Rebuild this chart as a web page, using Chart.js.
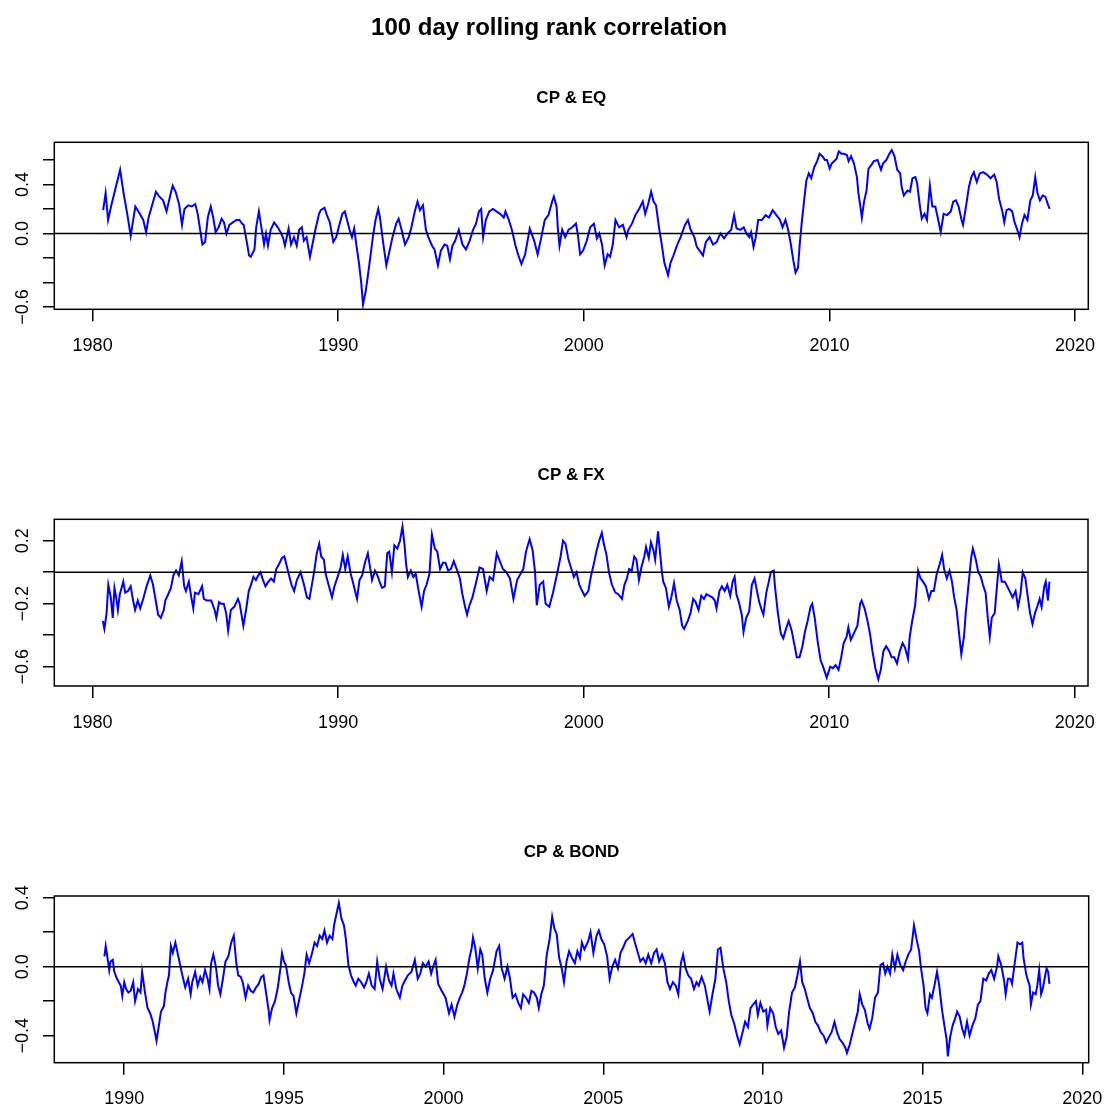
<!DOCTYPE html>
<html>
<head>
<meta charset="utf-8">
<script src="https://cdn.jsdelivr.net/npm/chart.js@4.4.1/dist/chart.umd.min.js"></script>
<style>
  html, body { margin: 0; padding: 0; background: #fff; }
  #wrap { position: relative; width: 1106px; height: 1107px; }
  canvas { position: absolute; left: 0; }
</style>
</head>
<body>
<div id="wrap">
  <canvas id="eq" width="1106" height="375" style="top:0px"></canvas>
  <canvas id="fx" width="1106" height="375" style="top:375px"></canvas>
  <canvas id="bond" width="1106" height="357" style="top:750px"></canvas>
</div>
<script>
const FONT = '"Liberation Sans", Arial, Helvetica, sans-serif';

const mainTitle = '100 day rolling rank correlation';
const panelTitles = ['CP & EQ', 'CP & FX', 'CP & BOND'];

// [year, correlation]
const eqSeries = [
  [1980.43,0.19],[1980.53,0.33],[1980.63,0.11],[1980.75,0.22],[1981.12,0.52],[1981.26,0.33],[1981.41,0.16],[1981.55,-0.02],
  [1981.74,0.22],[1981.92,0.16],[1982.06,0.11],[1982.18,0.01],[1982.28,0.13],[1982.58,0.34],[1982.72,0.30],[1982.87,0.27],
  [1983.01,0.18],[1983.16,0.31],[1983.26,0.39],[1983.38,0.34],[1983.52,0.24],[1983.64,0.07],[1983.74,0.20],[1983.89,0.23],
  [1984.04,0.22],[1984.18,0.24],[1984.28,0.16],[1984.40,0.00],[1984.47,-0.09],[1984.58,-0.07],[1984.69,0.13],[1984.81,0.22],
  [1984.91,0.13],[1985.01,0.01],[1985.13,0.05],[1985.25,0.12],[1985.35,0.09],[1985.45,0.00],[1985.57,0.07],[1985.71,0.09],
  [1985.86,0.11],[1985.98,0.11],[1986.08,0.08],[1986.15,0.07],[1986.27,-0.06],[1986.37,-0.18],[1986.44,-0.19],[1986.59,-0.13],
  [1986.66,0.05],[1986.77,0.18],[1986.88,0.04],[1986.98,-0.09],[1987.06,0.00],[1987.14,-0.10],[1987.25,0.03],[1987.39,0.09],
  [1987.54,0.05],[1987.68,0.00],[1987.76,-0.04],[1987.83,-0.10],[1987.98,0.04],[1988.08,-0.09],[1988.20,-0.03],[1988.31,-0.10],
  [1988.41,0.03],[1988.52,0.05],[1988.60,-0.06],[1988.71,-0.03],[1988.85,-0.19],[1988.93,-0.11],[1989.07,0.03],[1989.22,0.16],
  [1989.29,0.19],[1989.44,0.21],[1989.54,0.15],[1989.66,0.09],[1989.80,-0.07],[1989.92,-0.03],[1990.02,0.05],[1990.17,0.16],
  [1990.27,0.18],[1990.36,0.11],[1990.46,0.03],[1990.56,-0.03],[1990.65,0.04],[1990.75,-0.11],[1990.85,-0.25],[1990.94,-0.41],
  [1991.01,-0.58],[1991.12,-0.47],[1991.19,-0.37],[1991.29,-0.22],[1991.41,-0.03],[1991.52,0.11],[1991.63,0.20],[1991.70,0.13],
  [1991.82,-0.06],[1991.96,-0.26],[1992.06,-0.17],[1992.21,-0.03],[1992.36,0.08],[1992.46,0.12],[1992.58,0.03],[1992.72,-0.09],
  [1992.87,-0.03],[1992.98,0.05],[1993.13,0.19],[1993.23,0.26],[1993.33,0.19],[1993.45,0.23],[1993.57,0.03],[1993.67,-0.03],
  [1993.82,-0.10],[1993.92,-0.13],[1994.06,-0.26],[1994.18,-0.14],[1994.33,-0.09],[1994.44,-0.10],[1994.55,-0.21],[1994.65,-0.10],
  [1994.76,-0.06],[1994.91,0.03],[1995.06,-0.09],[1995.20,-0.13],[1995.35,-0.06],[1995.49,0.03],[1995.61,0.08],[1995.73,0.18],
  [1995.82,0.20],[1995.90,-0.03],[1996.01,0.11],[1996.15,0.18],[1996.30,0.20],[1996.44,0.18],[1996.59,0.16],[1996.74,0.13],
  [1996.81,0.18],[1996.93,0.12],[1997.07,0.03],[1997.22,-0.10],[1997.32,-0.17],[1997.46,-0.25],[1997.61,-0.17],[1997.80,0.04],
  [1997.98,-0.06],[1998.12,-0.17],[1998.27,-0.03],[1998.41,0.11],[1998.56,0.15],[1998.71,0.26],[1998.78,0.30],[1998.89,0.22],
  [1998.94,0.05],[1999.01,-0.10],[1999.12,0.03],[1999.24,-0.03],[1999.38,0.03],[1999.53,0.05],[1999.68,0.08],[1999.75,0.00],
  [1999.85,-0.17],[1999.97,-0.14],[2000.12,-0.06],[2000.26,0.05],[2000.41,0.08],[2000.53,-0.04],[2000.63,0.00],[2000.74,-0.09],
  [2000.85,-0.26],[2000.97,-0.17],[2001.07,-0.19],[2001.18,-0.09],[2001.29,0.11],[2001.44,0.05],[2001.59,0.07],[2001.74,-0.03],
  [2001.81,0.03],[2001.96,0.08],[2002.10,0.15],[2002.25,0.20],[2002.40,0.26],[2002.50,0.16],[2002.62,0.24],[2002.74,0.34],
  [2002.84,0.26],[2002.94,0.23],[2003.06,0.05],[2003.18,-0.10],[2003.28,-0.24],[2003.43,-0.34],[2003.53,-0.24],[2003.65,-0.18],
  [2003.79,-0.10],[2003.94,-0.03],[2004.12,0.07],[2004.24,0.11],[2004.35,0.03],[2004.50,-0.03],[2004.60,-0.11],[2004.75,-0.15],
  [2004.85,-0.18],[2004.97,-0.07],[2005.12,-0.03],[2005.26,-0.09],[2005.41,-0.07],[2005.56,0.00],[2005.71,-0.04],[2005.85,0.00],
  [2006.00,0.03],[2006.12,0.15],[2006.22,0.04],[2006.37,0.03],[2006.51,0.05],[2006.62,0.00],[2006.74,-0.03],[2006.81,0.01],
  [2006.91,-0.11],[2007.00,-0.03],[2007.10,0.11],[2007.25,0.11],[2007.40,0.15],[2007.54,0.13],[2007.69,0.19],[2007.84,0.15],
  [2007.99,0.11],[2008.09,0.05],[2008.21,0.11],[2008.32,0.03],[2008.43,-0.09],[2008.53,-0.22],[2008.62,-0.32],[2008.72,-0.28],
  [2008.79,-0.09],[2008.87,0.08],[2008.97,0.27],[2009.06,0.43],[2009.16,0.49],[2009.26,0.45],[2009.38,0.54],[2009.50,0.59],
  [2009.60,0.65],[2009.71,0.63],[2009.82,0.60],[2009.90,0.60],[2010.01,0.53],[2010.09,0.57],[2010.19,0.59],[2010.29,0.61],
  [2010.38,0.67],[2010.49,0.65],[2010.59,0.65],[2010.71,0.64],[2010.78,0.59],[2010.88,0.63],[2011.00,0.57],[2011.12,0.46],
  [2011.18,0.33],[2011.26,0.22],[2011.32,0.13],[2011.41,0.26],[2011.51,0.35],[2011.59,0.53],[2011.71,0.56],[2011.81,0.59],
  [2011.96,0.60],[2012.10,0.52],[2012.18,0.57],[2012.32,0.60],[2012.44,0.65],[2012.54,0.68],[2012.65,0.63],[2012.76,0.52],
  [2012.88,0.49],[2012.94,0.38],[2013.03,0.31],[2013.18,0.35],[2013.28,0.34],[2013.38,0.45],[2013.50,0.46],[2013.57,0.41],
  [2013.68,0.23],[2013.76,0.12],[2013.87,0.16],[2013.97,0.11],[2014.09,0.39],[2014.19,0.22],[2014.31,0.22],[2014.41,0.13],
  [2014.53,0.01],[2014.65,0.16],[2014.79,0.15],[2014.94,0.18],[2015.04,0.26],[2015.15,0.27],[2015.26,0.22],[2015.38,0.11],
  [2015.44,0.07],[2015.56,0.22],[2015.68,0.38],[2015.78,0.46],[2015.88,0.50],[2016.00,0.42],[2016.12,0.49],[2016.26,0.50],
  [2016.41,0.48],[2016.56,0.45],[2016.71,0.48],[2016.81,0.42],[2016.91,0.28],[2017.03,0.19],[2017.12,0.09],[2017.21,0.19],
  [2017.32,0.20],[2017.44,0.18],[2017.54,0.09],[2017.65,0.03],[2017.74,-0.03],[2017.84,0.08],[2017.94,0.15],[2018.06,0.11],
  [2018.18,0.27],[2018.28,0.31],[2018.38,0.46],[2018.47,0.33],[2018.57,0.27],[2018.68,0.31],[2018.79,0.30],[2018.91,0.23],
  [2018.97,0.20]
];

const fxSeries = [
  [1980.42,-0.31],[1980.48,-0.36],[1980.57,-0.26],[1980.64,-0.08],[1980.74,-0.16],[1980.82,-0.29],[1980.89,-0.10],[1980.96,-0.16],
  [1981.03,-0.24],[1981.11,-0.14],[1981.18,-0.10],[1981.25,-0.06],[1981.33,-0.13],[1981.44,-0.12],[1981.55,-0.09],[1981.65,-0.18],
  [1981.73,-0.24],[1981.84,-0.18],[1981.94,-0.23],[1982.06,-0.17],[1982.20,-0.09],[1982.35,-0.02],[1982.46,-0.08],[1982.57,-0.18],
  [1982.67,-0.27],[1982.78,-0.29],[1982.90,-0.24],[1982.96,-0.18],[1983.08,-0.14],[1983.19,-0.10],[1983.29,-0.02],[1983.40,0.01],
  [1983.51,-0.02],[1983.63,0.07],[1983.73,-0.09],[1983.80,-0.12],[1983.92,-0.06],[1984.02,-0.16],[1984.10,-0.23],[1984.17,-0.13],
  [1984.31,-0.14],[1984.46,-0.09],[1984.53,-0.17],[1984.65,-0.18],[1984.83,-0.18],[1984.97,-0.24],[1985.04,-0.29],[1985.15,-0.19],
  [1985.23,-0.20],[1985.34,-0.20],[1985.44,-0.26],[1985.52,-0.37],[1985.63,-0.24],[1985.77,-0.22],[1985.92,-0.17],[1985.99,-0.20],
  [1986.14,-0.34],[1986.25,-0.24],[1986.36,-0.12],[1986.43,-0.09],[1986.55,-0.03],[1986.65,-0.05],[1986.75,-0.02],[1986.84,0.00],
  [1986.94,-0.05],[1987.04,-0.09],[1987.16,-0.06],[1987.27,-0.04],[1987.38,-0.06],[1987.48,0.02],[1987.59,0.05],[1987.71,0.09],
  [1987.81,0.10],[1987.89,0.05],[1988.00,-0.02],[1988.10,-0.08],[1988.21,-0.12],[1988.32,-0.05],[1988.47,0.00],[1988.61,-0.08],
  [1988.73,-0.16],[1988.83,-0.17],[1988.91,-0.10],[1989.02,0.00],[1989.13,0.12],[1989.23,0.18],[1989.31,0.10],[1989.42,0.08],
  [1989.49,-0.01],[1989.61,-0.08],[1989.75,-0.16],[1989.85,-0.09],[1990.00,-0.02],[1990.10,0.03],[1990.19,0.11],[1990.29,0.02],
  [1990.39,0.10],[1990.51,-0.01],[1990.58,-0.05],[1990.69,-0.12],[1990.77,-0.17],[1990.87,-0.05],[1990.98,-0.02],[1991.09,0.06],
  [1991.21,0.12],[1991.31,0.02],[1991.38,-0.05],[1991.50,0.01],[1991.60,-0.02],[1991.71,-0.07],[1991.79,-0.10],[1991.90,-0.09],
  [1992.00,0.12],[1992.08,0.13],[1992.19,0.00],[1992.29,0.17],[1992.41,0.15],[1992.52,0.20],[1992.62,0.29],[1992.70,0.18],
  [1992.77,0.05],[1992.84,-0.03],[1992.96,0.01],[1993.06,-0.03],[1993.16,-0.01],[1993.28,-0.12],[1993.40,-0.22],[1993.50,-0.12],
  [1993.60,-0.08],[1993.72,-0.01],[1993.82,0.24],[1993.94,0.15],[1994.04,0.13],[1994.15,0.02],[1994.27,0.06],[1994.37,0.06],
  [1994.48,0.01],[1994.59,0.02],[1994.71,0.07],[1994.85,0.01],[1994.96,-0.04],[1995.06,-0.14],[1995.17,-0.22],[1995.25,-0.27],
  [1995.35,-0.21],[1995.47,-0.16],[1995.61,-0.07],[1995.76,0.03],[1995.90,0.02],[1996.05,-0.12],[1996.17,-0.03],[1996.31,-0.05],
  [1996.46,0.12],[1996.56,0.08],[1996.71,0.02],[1996.85,0.00],[1997.00,-0.04],[1997.14,-0.17],[1997.29,-0.05],[1997.43,-0.01],
  [1997.54,0.02],[1997.65,0.13],[1997.80,0.21],[1997.92,0.14],[1998.02,0.00],[1998.09,-0.21],[1998.21,-0.08],[1998.35,-0.06],
  [1998.45,-0.20],[1998.60,-0.22],[1998.75,-0.13],[1998.89,-0.03],[1999.06,0.10],[1999.16,0.20],[1999.26,0.18],[1999.38,0.08],
  [1999.50,0.02],[1999.60,-0.03],[1999.71,0.00],[1999.82,-0.08],[1999.94,-0.12],[2000.04,-0.15],[2000.19,-0.12],[2000.29,-0.03],
  [2000.41,0.05],[2000.53,0.14],[2000.63,0.20],[2000.74,0.25],[2000.82,0.18],[2000.93,0.11],[2001.03,0.00],[2001.15,-0.08],
  [2001.29,-0.13],[2001.41,-0.14],[2001.56,-0.17],[2001.66,-0.08],[2001.76,-0.04],[2001.85,0.02],[2001.96,0.01],[2002.06,0.10],
  [2002.15,0.08],[2002.25,-0.05],[2002.35,0.03],[2002.47,0.10],[2002.54,0.16],[2002.65,0.09],[2002.74,0.19],[2002.84,0.14],
  [2002.91,0.08],[2003.03,0.26],[2003.09,0.16],[2003.18,0.01],[2003.24,-0.06],[2003.35,-0.10],[2003.47,-0.22],[2003.57,-0.16],
  [2003.68,-0.07],[2003.79,-0.18],[2003.91,-0.24],[2004.01,-0.34],[2004.09,-0.36],[2004.24,-0.31],[2004.35,-0.26],[2004.46,-0.17],
  [2004.56,-0.19],[2004.68,-0.24],[2004.79,-0.15],[2004.90,-0.17],[2005.00,-0.14],[2005.12,-0.15],[2005.24,-0.16],[2005.34,-0.18],
  [2005.41,-0.23],[2005.53,-0.12],[2005.63,-0.09],[2005.74,-0.12],[2005.85,-0.08],[2005.97,-0.15],[2006.07,-0.06],[2006.15,-0.03],
  [2006.22,-0.14],[2006.32,-0.19],[2006.44,-0.27],[2006.51,-0.38],[2006.62,-0.29],[2006.74,-0.25],[2006.85,-0.08],[2006.96,-0.04],
  [2007.06,-0.12],[2007.15,-0.19],[2007.25,-0.24],[2007.32,-0.27],[2007.44,-0.13],[2007.54,-0.06],[2007.62,0.00],[2007.74,0.01],
  [2007.79,-0.09],[2007.91,-0.26],[2008.03,-0.39],[2008.13,-0.42],[2008.24,-0.36],[2008.35,-0.31],[2008.47,-0.37],[2008.57,-0.45],
  [2008.68,-0.54],[2008.79,-0.54],[2008.91,-0.47],[2009.01,-0.38],[2009.12,-0.31],[2009.24,-0.22],[2009.31,-0.20],[2009.41,-0.29],
  [2009.53,-0.44],[2009.65,-0.56],[2009.75,-0.60],[2009.90,-0.67],[2010.04,-0.60],[2010.15,-0.61],[2010.26,-0.59],[2010.38,-0.62],
  [2010.49,-0.54],[2010.59,-0.45],[2010.71,-0.41],[2010.78,-0.35],[2010.88,-0.43],[2011.00,-0.39],[2011.15,-0.34],[2011.26,-0.20],
  [2011.32,-0.18],[2011.44,-0.23],[2011.56,-0.31],[2011.66,-0.39],[2011.76,-0.50],[2011.88,-0.61],[2012.00,-0.68],[2012.10,-0.62],
  [2012.21,-0.50],[2012.32,-0.47],[2012.44,-0.50],[2012.54,-0.54],[2012.65,-0.54],[2012.76,-0.58],[2012.88,-0.50],[2012.99,-0.45],
  [2013.09,-0.48],[2013.21,-0.55],[2013.28,-0.41],[2013.38,-0.31],[2013.50,-0.21],[2013.62,0.01],[2013.72,-0.04],[2013.82,-0.06],
  [2013.94,-0.09],[2014.06,-0.17],[2014.16,-0.12],[2014.26,-0.12],[2014.38,-0.01],[2014.50,0.05],[2014.60,0.11],[2014.68,0.02],
  [2014.79,-0.04],[2014.90,0.01],[2015.00,-0.06],[2015.09,-0.16],[2015.19,-0.24],[2015.29,-0.39],[2015.38,-0.52],[2015.49,-0.41],
  [2015.56,-0.26],[2015.68,-0.07],[2015.78,0.09],[2015.85,0.15],[2015.97,0.08],[2016.07,0.00],[2016.18,-0.03],[2016.26,-0.08],
  [2016.37,-0.13],[2016.47,-0.31],[2016.54,-0.41],[2016.62,-0.29],[2016.74,-0.26],[2016.81,-0.13],[2016.91,0.05],[2017.03,-0.06],
  [2017.15,-0.06],[2017.25,-0.09],[2017.35,-0.12],[2017.47,-0.16],[2017.59,-0.12],[2017.69,-0.22],[2017.79,-0.14],[2017.88,0.00],
  [2017.99,-0.04],[2018.09,-0.16],[2018.18,-0.26],[2018.28,-0.33],[2018.38,-0.26],[2018.47,-0.22],[2018.57,-0.17],[2018.65,-0.22],
  [2018.76,-0.09],[2018.82,-0.06],[2018.91,-0.18],[2018.97,-0.06]
];

const bondSeries = [
  [1989.38,0.06],[1989.42,0.12],[1989.47,0.06],[1989.53,-0.02],[1989.57,0.03],[1989.64,0.04],[1989.69,-0.03],[1989.75,-0.06],
  [1989.83,-0.09],[1989.89,-0.11],[1989.94,-0.17],[1990.00,-0.09],[1990.06,-0.13],[1990.13,-0.15],[1990.20,-0.14],[1990.28,-0.09],
  [1990.34,-0.20],[1990.43,-0.13],[1990.51,-0.15],[1990.56,-0.03],[1990.65,-0.15],[1990.73,-0.24],[1990.81,-0.27],[1990.88,-0.31],
  [1990.96,-0.38],[1991.01,-0.43],[1991.07,-0.36],[1991.15,-0.26],[1991.24,-0.23],[1991.29,-0.15],[1991.35,-0.09],[1991.40,-0.05],
  [1991.46,0.12],[1991.52,0.08],[1991.60,0.14],[1991.66,0.09],[1991.74,0.02],[1991.82,-0.05],[1991.91,-0.12],[1992.00,-0.07],
  [1992.08,-0.16],[1992.13,-0.09],[1992.22,-0.03],[1992.30,-0.11],[1992.38,-0.06],[1992.45,-0.09],[1992.53,-0.02],[1992.61,-0.07],
  [1992.67,-0.13],[1992.72,0.02],[1992.79,0.07],[1992.87,0.00],[1992.94,-0.11],[1993.01,-0.16],[1993.09,-0.07],[1993.17,0.03],
  [1993.26,0.06],[1993.35,0.14],[1993.43,0.18],[1993.51,0.02],[1993.57,-0.05],[1993.65,-0.06],[1993.71,-0.09],[1993.80,-0.18],
  [1993.88,-0.11],[1993.96,-0.14],[1994.04,-0.15],[1994.13,-0.12],[1994.21,-0.10],[1994.29,-0.06],[1994.36,-0.05],[1994.44,-0.15],
  [1994.52,-0.25],[1994.55,-0.31],[1994.63,-0.24],[1994.72,-0.20],[1994.81,-0.12],[1994.89,-0.01],[1994.94,0.08],[1995.00,0.03],
  [1995.06,0.01],[1995.15,-0.09],[1995.22,-0.15],[1995.30,-0.17],[1995.39,-0.27],[1995.48,-0.19],[1995.56,-0.12],[1995.64,-0.04],
  [1995.71,0.07],[1995.79,0.02],[1995.87,0.07],[1995.96,0.14],[1996.04,0.12],[1996.12,0.18],[1996.20,0.16],[1996.27,0.21],
  [1996.35,0.14],[1996.43,0.18],[1996.52,0.16],[1996.57,0.24],[1996.65,0.31],[1996.72,0.37],[1996.80,0.28],[1996.88,0.24],
  [1996.94,0.16],[1997.02,0.01],[1997.10,-0.05],[1997.19,-0.09],[1997.25,-0.11],[1997.33,-0.07],[1997.42,-0.09],[1997.51,-0.12],
  [1997.58,-0.09],[1997.66,-0.04],[1997.75,-0.11],[1997.84,-0.13],[1997.92,0.03],[1998.00,-0.07],[1998.09,-0.13],[1998.20,0.00],
  [1998.29,-0.08],[1998.37,-0.11],[1998.43,-0.04],[1998.52,-0.13],[1998.63,-0.18],[1998.71,-0.11],[1998.79,-0.08],[1998.88,-0.05],
  [1998.99,-0.03],[1999.10,0.04],[1999.19,-0.07],[1999.27,-0.04],[1999.35,0.02],[1999.44,0.00],[1999.53,0.03],[1999.61,-0.04],
  [1999.69,0.01],[1999.75,0.04],[1999.83,-0.10],[1999.94,-0.14],[2000.06,-0.18],[2000.17,-0.27],[2000.25,-0.22],[2000.34,-0.29],
  [2000.43,-0.22],[2000.51,-0.18],[2000.58,-0.15],[2000.65,-0.11],[2000.73,-0.04],[2000.81,0.05],[2000.88,0.11],[2000.92,0.17],
  [2000.99,0.11],[2001.07,-0.01],[2001.15,0.10],[2001.21,0.07],[2001.29,-0.07],[2001.37,-0.15],[2001.46,-0.07],[2001.55,-0.02],
  [2001.66,0.09],[2001.74,0.12],[2001.82,-0.01],[2001.91,-0.07],[2002.00,0.00],[2002.08,-0.07],[2002.16,-0.18],[2002.25,-0.16],
  [2002.34,-0.21],[2002.42,-0.24],[2002.49,-0.16],[2002.58,-0.18],[2002.67,-0.21],[2002.75,-0.14],[2002.83,-0.15],[2002.92,-0.18],
  [2002.98,-0.24],[2003.06,-0.16],[2003.14,-0.11],[2003.23,0.07],[2003.32,0.16],[2003.40,0.29],[2003.47,0.22],[2003.54,0.19],
  [2003.62,0.05],[2003.70,-0.01],[2003.77,-0.09],[2003.85,0.03],[2003.93,0.09],[2004.02,0.05],[2004.11,0.02],[2004.19,0.09],
  [2004.27,0.05],[2004.33,0.14],[2004.41,0.10],[2004.53,0.15],[2004.60,0.20],[2004.69,0.08],[2004.79,0.18],[2004.86,0.21],
  [2004.94,0.16],[2005.03,0.13],[2005.12,0.06],[2005.20,-0.07],[2005.28,0.00],[2005.37,0.04],[2005.46,-0.01],[2005.54,0.08],
  [2005.62,0.11],[2005.71,0.15],[2005.82,0.17],[2005.92,0.19],[2005.99,0.14],[2006.07,0.09],[2006.16,0.03],[2006.25,0.05],
  [2006.33,0.02],[2006.41,0.07],[2006.50,0.02],[2006.59,0.08],[2006.67,0.10],[2006.75,0.03],[2006.84,0.07],[2006.93,0.02],
  [2007.01,-0.09],[2007.09,-0.13],[2007.18,-0.09],[2007.27,-0.11],[2007.35,-0.16],[2007.43,0.02],[2007.50,0.07],[2007.58,-0.01],
  [2007.66,-0.05],[2007.75,-0.07],[2007.84,-0.13],[2007.92,-0.09],[2007.99,-0.11],[2008.08,-0.06],[2008.18,-0.11],[2008.25,-0.18],
  [2008.33,-0.26],[2008.42,-0.16],[2008.51,-0.07],[2008.59,0.10],[2008.67,0.11],[2008.76,-0.01],[2008.85,-0.09],[2008.93,-0.20],
  [2009.01,-0.28],[2009.10,-0.33],[2009.19,-0.40],[2009.27,-0.45],[2009.35,-0.39],[2009.44,-0.32],[2009.53,-0.35],[2009.61,-0.24],
  [2009.69,-0.22],[2009.78,-0.20],[2009.84,-0.28],[2009.92,-0.21],[2010.01,-0.26],[2010.10,-0.25],[2010.14,-0.34],[2010.23,-0.24],
  [2010.32,-0.27],[2010.40,-0.35],[2010.48,-0.39],[2010.57,-0.37],[2010.66,-0.47],[2010.74,-0.41],[2010.82,-0.26],[2010.91,-0.15],
  [2011.00,-0.12],[2011.08,-0.05],[2011.16,0.03],[2011.23,-0.09],[2011.31,-0.13],[2011.38,-0.18],[2011.47,-0.24],[2011.56,-0.27],
  [2011.64,-0.32],[2011.72,-0.34],[2011.81,-0.38],[2011.90,-0.40],[2011.98,-0.44],[2012.06,-0.41],[2012.15,-0.38],[2012.24,-0.32],
  [2012.32,-0.38],[2012.40,-0.42],[2012.49,-0.44],[2012.58,-0.47],[2012.63,-0.50],[2012.72,-0.45],[2012.81,-0.38],[2012.89,-0.32],
  [2012.97,-0.26],[2013.03,-0.16],[2013.11,-0.22],[2013.19,-0.25],[2013.28,-0.33],[2013.34,-0.36],[2013.42,-0.30],[2013.51,-0.18],
  [2013.60,-0.15],[2013.68,0.01],[2013.76,0.02],[2013.83,-0.04],[2013.90,0.00],[2013.98,-0.04],[2014.05,0.07],[2014.13,-0.01],
  [2014.21,0.07],[2014.30,0.01],[2014.39,-0.02],[2014.47,0.03],[2014.55,0.07],[2014.64,0.10],[2014.73,0.24],[2014.81,0.16],
  [2014.89,0.09],[2014.95,-0.01],[2015.03,-0.11],[2015.09,-0.24],[2015.15,-0.27],[2015.23,-0.16],[2015.29,-0.18],[2015.37,-0.11],
  [2015.45,-0.03],[2015.52,-0.11],[2015.60,-0.24],[2015.68,-0.34],[2015.75,-0.42],[2015.79,-0.52],[2015.86,-0.41],[2015.94,-0.34],
  [2016.02,-0.30],[2016.08,-0.26],[2016.16,-0.29],[2016.24,-0.36],[2016.31,-0.40],[2016.39,-0.32],[2016.47,-0.40],[2016.56,-0.34],
  [2016.65,-0.30],[2016.73,-0.22],[2016.81,-0.20],[2016.90,-0.07],[2016.99,-0.08],[2017.07,-0.04],[2017.15,-0.02],[2017.24,-0.07],
  [2017.33,0.00],[2017.37,0.06],[2017.46,0.01],[2017.55,-0.08],[2017.60,-0.16],[2017.67,-0.07],[2017.75,-0.07],[2017.80,-0.10],
  [2017.89,0.03],[2017.97,0.14],[2018.05,0.13],[2018.12,0.14],[2018.16,0.05],[2018.25,-0.05],[2018.35,-0.11],[2018.39,-0.22],
  [2018.46,-0.15],[2018.54,-0.16],[2018.59,-0.11],[2018.65,-0.02],[2018.71,-0.16],[2018.76,-0.13],[2018.82,-0.07],[2018.88,-0.01],
  [2018.93,-0.03],[2018.97,-0.10]
];

// axis ticks and labelled ticks
const yearTicks = [1980, 1990, 2000, 2010, 2020];
const bondYearTicks = [1990, 1995, 2000, 2005, 2010, 2015, 2020];
const eqYTicks = [-0.6, -0.4, -0.2, 0, 0.2, 0.4, 0.6];
const eqYLabels = [0.4, 0, -0.6];
const fxYTicks = [-0.6, -0.4, -0.2, 0, 0.2];
const fxYLabels = [0.2, -0.2, -0.6];
const bondYTicks = [-0.4, -0.2, 0, 0.2, 0.4];
const bondYLabels = [0.4, 0, -0.4];

Chart.defaults.font.family = FONT;

function fmt(v) {
  return (v < 0 ? '\u2212' : '') + Math.abs(v).toFixed(1);
}

// box round the plot region, like R's box()
const boxPlugin = {
  id: 'rBox',
  afterDraw(chart) {
    const a = chart.chartArea;
    const ctx = chart.ctx;
    ctx.save();
    ctx.strokeStyle = '#000';
    ctx.lineWidth = 1.5;
    ctx.strokeRect(a.left, a.top, a.right - a.left, a.bottom - a.top);
    ctx.restore();
  }
};

// R draws y tick labels turned on their side
const yLabelPlugin = {
  id: 'rYLabels',
  afterDraw(chart, args, opts) {
    const y = chart.scales.y;
    const ctx = chart.ctx;
    ctx.save();
    ctx.fillStyle = '#000';
    ctx.font = '18px ' + FONT;
    ctx.textAlign = 'center';
    ctx.textBaseline = 'alphabetic';
    opts.values.forEach(v => {
      ctx.save();
      ctx.translate(opts.x, y.getPixelForValue(v));
      ctx.rotate(-Math.PI / 2);
      ctx.fillText(fmt(v), 0, 0);
      ctx.restore();
    });
    ctx.restore();
  }
};

function makePanel(id, p) {
  const plugins = {
    legend: { display: false },
    tooltip: { enabled: false },
    rYLabels: { values: p.yLabels, x: 28 }
  };
  if (p.mainTitle) {
    plugins.title = {
      display: true, text: p.mainTitle, color: '#000', fullSize: true,
      font: { size: 24, weight: 'bold', lineHeight: 1.2 },
      padding: { top: 0, bottom: 0 }
    };
    plugins.subtitle = {
      display: true, text: p.title, color: '#000', fullSize: false,
      font: { size: 17, weight: 'bold', lineHeight: 1.2 },
      padding: { top: 45.5, bottom: 33.6 }
    };
  } else {
    plugins.title = {
      display: true, text: p.title, color: '#000', fullSize: false,
      font: { size: 17, weight: 'bold', lineHeight: 1.2 },
      padding: { top: 0, bottom: 33.6 }
    };
  }

  new Chart(document.getElementById(id), {
    type: 'line',
    data: {
      datasets: [
        {
          data: [{ x: p.xMin, y: 0 }, { x: p.xMax, y: 0 }],
          borderColor: '#000',
          borderWidth: 1.5,
          pointRadius: 0
        },
        {
          data: p.series.map(d => ({ x: d[0], y: d[1] })),
          borderColor: '#0000ff',
          borderWidth: 2,
          pointRadius: 0,
          tension: 0
        }
      ]
    },
    options: {
      responsive: false,
      animation: false,
      events: [],
      layout: { padding: p.padding },
      plugins: plugins,
      scales: {
        x: {
          type: 'linear',
          min: p.xMin, max: p.xMax,
          afterBuildTicks: s => { s.ticks = p.xTicks.map(v => ({ value: v })); },
          afterFit: s => { s.height = p.xAxisHeight; s.paddingLeft = 0; s.paddingRight = 0; },
          border: { display: false },
          grid: { drawOnChartArea: false, drawTicks: true, tickLength: 12, color: '#000', lineWidth: 1.5 },
          ticks: {
            autoSkip: false, maxRotation: 0, minRotation: 0, padding: 14,
            color: '#000', font: { size: 18 },
            callback: v => String(v)
          }
        },
        y: {
          type: 'linear',
          min: p.yMin, max: p.yMax,
          afterBuildTicks: s => { s.ticks = p.yTicks.map(v => ({ value: v })); },
          afterFit: s => { s.width = 44.3; s.paddingTop = 0; s.paddingBottom = 0; },
          border: { display: false },
          grid: { drawOnChartArea: false, drawTicks: true, tickLength: 11.3, color: '#000', lineWidth: 1.5 },
          ticks: { font: { size: 1 }, padding: 0, callback: () => '' }
        }
      }
    },
    plugins: [boxPlugin, yLabelPlugin]
  });
}

makePanel('eq', {
  mainTitle: mainTitle, title: panelTitles[0], series: eqSeries,
  xMin: 1978.44, xMax: 2020.54, xTicks: yearTicks, xAxisHeight: 60,
  yMin: -0.619, yMax: 0.744, yTicks: eqYTicks, yLabels: eqYLabels,
  padding: { left: 10, right: 17.7, top: 14, bottom: 5.7 }
});

makePanel('fx', {
  title: panelTitles[1], series: fxSeries,
  xMin: 1978.44, xMax: 2020.54, xTicks: yearTicks, xAxisHeight: 60,
  yMin: -0.723, yMax: 0.336, yTicks: fxYTicks, yLabels: fxYLabels,
  padding: { left: 10, right: 18, top: 90.3, bottom: 4 }
});

makePanel('bond', {
  title: panelTitles[2], series: bondSeries,
  xMin: 1987.81, xMax: 2020.2, xTicks: bondYearTicks, xAxisHeight: 44.3,
  yMin: -0.557, yMax: 0.41, yTicks: bondYTicks, yLabels: bondYLabels,
  padding: { left: 10, right: 17.3, top: 92, bottom: 0 }
});
</script>
</body>
</html>
